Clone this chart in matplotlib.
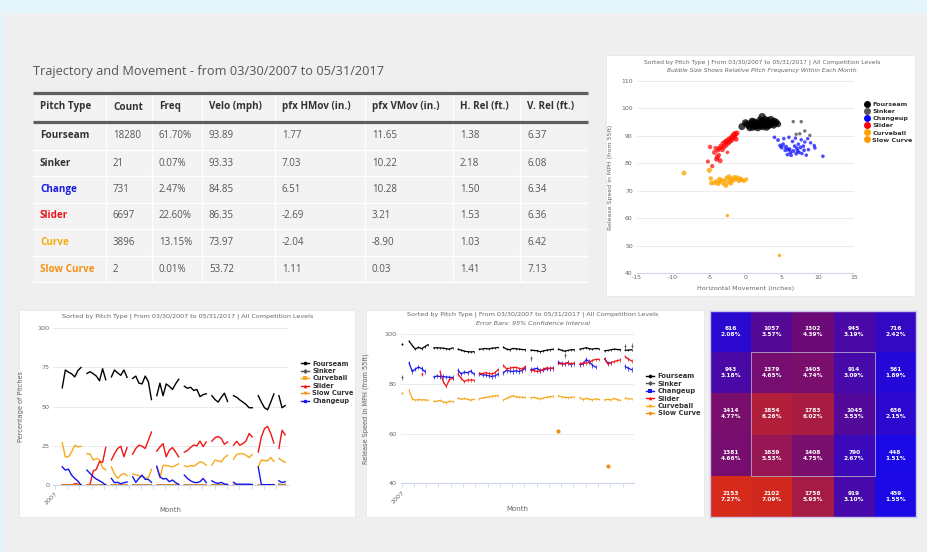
import numpy as np
import matplotlib
matplotlib.use('Agg')
import matplotlib.pyplot as plt
from matplotlib.patches import Rectangle
from matplotlib.lines import Line2D
from matplotlib.colors import LinearSegmentedColormap

plt.rcParams['axes.unicode_minus'] = False
plt.rcParams['font.family'] = ['DejaVu Sans']

# ---------------- table data ----------------
table_title = 'Trajectory and Movement - from 03/30/2007 to 05/31/2017'
table_columns = ['Pitch Type', 'Count', 'Freq', 'Velo (mph)', 'pfx HMov (in.)',
                 'pfx VMov (in.)', 'H. Rel (ft.)', 'V. Rel (ft.)']
pitch_names = ['Fourseam', 'Sinker', 'Change', 'Slider', 'Curve', 'Slow Curve']
pitch_counts = [18280, 21, 731, 6697, 3896, 2]
pitch_freq = [61.70, 0.07, 2.47, 22.60, 13.15, 0.01]
pitch_velo = [93.89, 93.33, 84.85, 86.35, 73.97, 53.72]
pitch_hmov = [1.77, 7.03, 6.51, -2.69, -2.04, 1.11]
pitch_vmov = [11.65, 10.22, 10.28, 3.21, -8.90, 0.03]
pitch_hrel = [1.38, 2.18, 1.50, 1.53, 1.03, 1.41]
pitch_vrel = [6.37, 6.08, 6.34, 6.36, 6.42, 7.13]

# ---------------- scatter (h movement, velo, monthly freq %) ----------------
sc_fourseam = [(-0.5, 93.4, 65), (0.2, 94.3, 70), (0.5, 93.8, 72), (0.8, 94.6, 68), (1.0, 93.2, 73),
               (1.2, 94.0, 70), (1.4, 93.5, 64), (1.5, 94.8, 69), (1.7, 93.0, 71), (1.8, 94.2, 66),
               (2.0, 93.6, 62), (2.1, 94.6, 58), (2.3, 97.0, 75), (2.4, 93.3, 61), (2.5, 94.0, 63),
               (2.6, 95.0, 57), (2.8, 93.8, 56), (3.0, 94.4, 60), (3.1, 95.6, 72), (3.2, 93.6, 54),
               (3.4, 94.8, 55), (3.5, 96.0, 70), (3.6, 94.2, 53), (3.8, 95.2, 52), (3.9, 93.8, 50),
               (4.1, 94.6, 57), (4.3, 95.0, 49), (4.5, 94.3, 48), (0.0, 94.8, 68), (1.1, 95.2, 67),
               (2.2, 95.3, 65), (2.9, 93.1, 59), (1.6, 93.9, 74), (0.6, 93.0, 69), (3.3, 94.0, 58),
               (2.7, 96.0, 66), (1.3, 94.5, 62), (0.9, 95.4, 60), (2.0, 95.8, 64), (4.0, 95.5, 51)]
sc_sinker = [(6.6, 95.2, 0.6), (7.7, 95.2, 0.5), (8.2, 91.8, 0.3), (7.0, 90.6, 0.3),
             (7.5, 90.8, 0.3), (8.9, 90.2, 0.2)]
sc_changeup = [(4.0, 89.5, 3), (4.5, 88.5, 5), (4.8, 86.5, 8), (5.0, 85.8, 10), (5.2, 87.0, 4),
               (5.5, 84.8, 6), (5.6, 86.0, 12), (5.8, 83.2, 4), (6.0, 89.5, 2), (6.1, 85.2, 5),
               (6.3, 83.0, 6), (6.5, 88.0, 3), (6.6, 84.5, 9), (6.8, 86.3, 4), (7.0, 83.5, 3),
               (7.1, 85.5, 6), (7.3, 87.0, 2), (7.4, 84.0, 4), (7.6, 85.8, 7), (7.8, 83.6, 2),
               (8.0, 86.3, 3), (8.1, 84.8, 4), (8.2, 87.8, 1), (8.4, 83.0, 2), (8.7, 85.0, 2),
               (9.0, 87.5, 1), (9.5, 86.5, 2), (9.6, 85.6, 1), (10.7, 82.6, 2), (5.3, 89.0, 2),
               (6.9, 89.2, 1), (7.7, 88.6, 1), (8.6, 89.0, 1), (6.2, 84.0, 4), (7.2, 84.6, 5),
               (5.9, 85.0, 7)]
sc_slider = [(-4.9, 86.0, 15), (-5.2, 80.7, 10), (-4.6, 79.0, 12), (-4.3, 84.0, 20), (-4.0, 81.5, 22),
             (-3.9, 82.3, 25), (-3.8, 84.8, 18), (-3.6, 85.5, 22), (-3.5, 81.0, 24), (-3.4, 86.3, 23),
             (-3.2, 85.0, 24), (-3.1, 87.3, 25), (-3.0, 86.0, 28), (-2.8, 87.8, 27), (-2.7, 86.6, 24),
             (-2.6, 88.2, 30), (-2.4, 87.4, 29), (-2.3, 88.8, 27), (-2.2, 88.0, 33), (-2.0, 89.2, 31),
             (-1.9, 88.5, 28), (-1.8, 89.8, 35), (-1.6, 90.5, 37), (-1.5, 89.5, 27), (-1.4, 90.8, 33),
             (-1.3, 88.8, 25), (-2.5, 84.0, 3), (-1.2, 91.0, 31), (-3.7, 83.0, 16), (-4.1, 85.5, 21)]
sc_curveball = [(-8.5, 76.5, 20), (-5.0, 77.5, 27), (-4.8, 74.5, 15), (-4.7, 72.8, 18), (-4.3, 73.0, 20),
                (-4.0, 73.5, 12), (-3.8, 72.6, 17), (-3.5, 73.2, 19), (-3.3, 74.0, 12), (-3.0, 72.5, 10),
                (-2.9, 73.6, 14), (-2.7, 71.9, 16), (-2.6, 74.6, 20), (-2.4, 73.0, 8), (-2.3, 75.2, 18),
                (-2.1, 74.0, 15), (-1.9, 74.5, 12), (-1.7, 73.8, 13), (-1.5, 75.0, 16), (-1.3, 74.2, 14),
                (-1.1, 74.8, 17), (-0.9, 73.6, 12), (-0.7, 74.4, 15), (-0.5, 74.0, 13), (-0.2, 73.6, 11),
                (0.1, 74.2, 10), (-3.6, 74.3, 14), (-2.0, 72.8, 19)]
sc_slowcurve = [(-2.5, 61.0, 0.1), (4.7, 46.5, 0.1)]

# ---------------- monthly series (one list per season, first = March 2007) ----------------
season_month0 = [0.0, 2.4, 10.3, 18.1, 24.9, 32.6, 41.4, 50.2, 57.1, 65.0, 71.6]

pct_fourseam = [[None], [62, 73.4, 72, 71, 69, 73, 75], [71.2, 72.3, 71, 69.5, 66.5, 74.2, 67.2],
                [69, 73.4, 71.5, 70, 73.4, 68.7], [68, 69.5, 65, 64.5, 69.5, 66, 54.5],
                [57, 65, 57, 64.5, 63, 61, 64.5, 67.5], [63, 61.7, 62.4, 60.3, 61, 56.4, 57.7, 58.2],
                [57, 54.5, 52.9, 56, 58.6, 53.3], [57, 56, 54.3, 52.9, 51.4, 49.3, 49.3],
                [57, 52.9, 49.3, 48, 52.9, 58.1], [57, 49.3, 50.7]]
pct_sinker = [[None], [0, 0, 0, 0, 0, 0, 0], [0, 0, 0, 0, 0, 0, 0], [0, 0, 0, 0, 0, 0],
              [0, 0, 0, 0, 0, 0, 0], [0, 0, 0, 0, 0, 0, 0, 0], [0.2, 0, 0, 0, 0, 0, 0, 0],
              [0, 0, 0.3, 0, 0, 0], [0, 0, 0, 0, 0, 0, 0], [0, 0, 0, 0, 0, 0], [0.6, 0, 0.4]]
pct_curveball = [[None], [27, 18, 18, 21.1, 25.4, 24.3, 24.7], [20, 19.7, 15.9, 17, 16, 11, 9.6],
                 [11.6, 7, 4.2, 6.3, 7.4, 5.9], [7, 6.5, 6, 5.5, 4.5, 4.5, 10],
                 [11, 4.5, 12.5, 12.5, 12, 11.5, 12.5, 13.5], [12.3, 11.6, 12.5, 12, 13.3, 14.8, 14.2, 12.7],
                 [12.7, 15.9, 15.4, 14.8, 17.5, 19], [16.5, 19.5, 20, 20, 19, 17.5, 19.5],
                 [11.5, 16, 15.5, 15.5, 17.5, 15], [17, 15.5, 14.5]]
pct_slider = [[None], [0, 0, 0, 0, 0.8, 0.6, 0], [0, 0.5, 9, 10, 15, 14.5, 24],
              [16, 20, 23.3, 24.7, 18, 23.9], [19.7, 23.3, 25.4, 24.7, 23.3, 28.5, 33.8],
              [21.6, 24.3, 26.4, 18, 22.2, 23.9, 21.1, 18], [21, 22, 24, 25.5, 25, 28, 24.5, 27.5],
              [28, 30.2, 31, 29.6, 26, 27.5], [25.4, 27.9, 25.4, 26.4, 28.1, 32.8, 30.7],
              [21, 30.7, 36, 37.4, 32.8, 26.8], [23.3, 34.9, 32]]
pct_slowcurve = [[None], [0, 0, 0, 0, 0, 0, 0], [0, 0, 0, 0, 0, 0, 0], [0, 0, 0, 0, 0, 0],
                 [0, 0, 0, 0, 0, 0, 0], [0, 0, 0, 0, 0, 0, 0, 0], [0, 0, 0, 0, 0, 0, 0, 0],
                 [0.1, 0, 0, 0, 0, 0], [0, 0, 0, 0, 0, 0, 0], [0, 0.1, 0, 0, 0, 0], [0, 0, 0]]
pct_changeup = [[None], [11.6, 9.5, 10.1, 6.3, 4.2, 2.5, 0], [9.5, 7.4, 5.3, 3.8, 2.7, 1.5, 0],
                [4.2, 1.5, 1.7, 0.8, 1.5, 1.9], [5.3, 1.7, 4.2, 6.3, 3.6, 3.6, 1.7],
                [12, 5.3, 3.8, 4.2, 2.1, 3.2, 1.5, 0.4], [6.3, 4.2, 2.7, 1.7, 1.5, 2.1, 4.2, 1.5],
                [2.7, 1.5, 1, 1.7, 0.6, 0.4], [1.7, 0.5, 0.5, 0.5, 0.5, 0.5, 0.3],
                [11.5, 0.3, 0.2, 0.2, 0.2, 0.2], [2.7, 1.5, 2.1]]

velo_fourseam = [[96.0], [97.2, 95.5, 94.0, 94.8, 94.2, 95.0, 95.8], [94.5, 94.6, 94.5, 94.4, 94.2, 94.0, 94.5],
                 [94.0, 93.6, 93.2, 93.0, 92.9, 93.0], [94.0, 94.1, 94.3, 94.1, 94.4, 94.5, 94.7],
                 [94.8, 94.0, 93.8, 94.3, 94.2, 94.0, 93.9, 93.8], [93.6, 93.5, 93.4, 93.0, 93.3, 93.6, 93.8, 94.0],
                 [94.0, 93.6, 93.2, 93.5, 93.8, 93.8], [94.0, 94.3, 94.6, 94.2, 94.0, 94.3, 94.2],
                 [93.4, 93.5, 93.8, 94.0, 93.9, 93.8], [93.6, 93.6, 93.8]]
velo_sinker = [[82.7], [None] * 7, [None] * 7, [None] * 6, [None] * 7, [None] * 8,
               [90.3, None, None, None, None, None, None, None], [None, None, 91.5, None, None, None],
               [None] * 7, [None] * 6, [95.1, None, 95.3]]
velo_changeup = [[None], [88.5, 85.0, 86.0, 86.8, 86.2, 85.0, None], [82.8, 83.2, 83.0, 83.0, 82.8, 82.7, 82.6],
                 [85.5, 84.0, 84.8, 84.5, 85.2, 84.0], [84.0, 83.6, 83.6, 83.3, 83.0, 83.3, 84.0],
                 [84.5, 85.5, 85.2, 85.0, 85.3, 85.0, 85.5, 86.3], [85.8, 86.0, 86.3, 85.4, 85.6, 86.1, 86.2, 86.3],
                 [88.8, 88.3, 88.0, 88.6, 87.8, 88.3], [87.8, 88.0, 89.8, 89.0, 87.5, 86.8, None],
                 [90.0, 88.5, 88.5, None, None, None], [87.0, 86.3, 85.8]]
velo_slider = [[None], [None, None, None, None, 84.0, None, None], [None, None, 85.0, 81.0, 79.0, 81.8, 82.2],
               [84.0, 82.2, 81.0, 81.6, 81.6, 81.5], [84.3, 84.2, 84.5, 84.3, 84.0, 84.6, 85.8],
               [87.5, 86.0, 86.4, 86.6, 86.7, 86.3, 86.0, 87.0], [85.5, 85.4, 85.0, 85.2, 86.0, 86.5, 86.3, 86.4],
               [88.2, 88.0, 88.3, 88.4, 88.2, 88.3], [88.0, 88.5, 88.3, 88.8, 89.5, 89.9, 89.9],
               [90.2, 88.0, 88.6, 89.0, 89.4, 89.7], [91.0, 90.0, 89.3]]
velo_curveball = [[76.4], [77.5, 74.0, 73.5, 73.7, 73.6, 73.6, 73.5], [73.0, 73.0, 73.4, 72.8, 72.5, 73.0, 72.9],
                  [74.3, 73.8, 74.2, 73.8, 73.5, 73.8], [74.0, 74.4, 74.6, 74.8, 75.0, 75.3, 75.3],
                  [73.5, 74.2, 74.8, 75.2, 74.9, 74.7, 74.6, 74.6], [74.5, 74.6, 74.2, 74.0, 74.3, 74.6, 74.9, 75.0],
                  [75.3, 74.8, 74.6, 74.5, 74.6, 74.8], [74.5, 73.7, 74.2, 73.9, 73.6, 74.0, 73.8],
                  [73.6, 73.8, 73.6, 74.2, 73.7, 73.4], [74.4, 74.0, 74.0]]
velo_slowcurve = [[None], [None] * 7, [None] * 7, [None] * 6, [None] * 7, [None] * 8, [None] * 8,
                  [61.1, None, None, None, None, None], [None] * 7, [None, 46.9, None, None, None, None],
                  [None] * 3]
velo_ci = {'Fourseam': 0.35, 'Sinker': 1.0, 'Changeup': 0.9, 'Slider': 0.7, 'Curveball': 0.45, 'Slow Curve': 0.0}

# ---------------- zone heatmap ----------------
zone_counts = [[616, 1057, 1302, 945, 716], [943, 1379, 1405, 914, 561], [1414, 1854, 1783, 1045, 636],
               [1381, 1639, 1408, 790, 448], [2153, 2102, 1758, 919, 459]]
zone_pct = [[2.08, 3.57, 4.39, 3.19, 2.42], [3.18, 4.65, 4.74, 3.09, 1.89], [4.77, 6.26, 6.02, 3.53, 2.15],
            [4.66, 5.53, 4.75, 2.67, 1.51], [7.27, 7.09, 5.93, 3.10, 1.55]]

chart_title = 'Sorted by Pitch Type | From 03/30/2007 to 05/31/2017 | All Competition Levels'

# ---------------- styles ----------------
COL = {'Fourseam': '#000000', 'Sinker': '#555555', 'Changeup': '#1414f0', 'Slider': '#f01414',
       'Curveball': '#f6a81c', 'Slow Curve': '#f38f14'}
NAME_COL = {'Fourseam': '#333333', 'Sinker': '#333333', 'Change': '#1a1ae0', 'Slider': '#e8141a',
            'Curve': '#f5ad10', 'Slow Curve': '#f59012'}
GRID = '#e8e8e8'
AXC = '#ccd6eb'
TXT = '#666666'

W, H = 928, 552
fig = plt.figure(figsize=(W / 100, H / 100), dpi=100)
fig.patch.set_facecolor('#efefef')


def ax_px(x0, y0, x1, y1, **kw):
    return fig.add_axes([x0 / W, 1 - y1 / H, (x1 - x0) / W, (y1 - y0) / H], **kw)


bg = ax_px(0, 0, W, H)
bg.set_xlim(0, W)
bg.set_ylim(H, 0)
bg.axis('off')
bg.set_zorder(-10)
bg.add_patch(Rectangle((0, 0), W, 13, color='#e3f4fa', lw=0))
bg.add_patch(Rectangle((0, 0), 2.7, H, color='#e3f4fa', lw=0))
for (x0, y0, x1, y1) in [(606, 55, 915, 296), (19, 310, 355, 517), (366, 310, 704, 517)]:
    bg.add_patch(Rectangle((x0, y0), x1 - x0, y1 - y0, fc='white', ec='#e4e4e4', lw=0.5))

# ---------------- table ----------------
TF = ['Open Sans', 'DejaVu Sans']
bg.text(33, 72, table_title, fontsize=9.2, color='#555555', va='center', ha='left', family=TF)
cols_x = [33, 106, 152, 202, 275, 365, 453, 520.5, 588]
rows_y = [92.5, 121.5, 150, 176, 203, 229, 256, 282]
bg.add_patch(Rectangle((cols_x[0], rows_y[0]), cols_x[-1] - cols_x[0], rows_y[-1] - rows_y[0],
                       fc='#f3f3f3', ec='none'))
for x in cols_x[1:-1]:
    bg.plot([x, x], [rows_y[0], rows_y[-1]], color='white', lw=1.0)
for y in rows_y[2:]:
    bg.plot([cols_x[0], cols_x[-1]], [y, y], color='white', lw=1.0)
for y in rows_y[:2]:
    bg.plot([cols_x[0], cols_x[-1]], [y, y], color='#5e5e5e', lw=2.3, solid_capstyle='butt')
head_y = (rows_y[0] + rows_y[1]) / 2
for j, c in enumerate(table_columns):
    bg.text(cols_x[j] + 7, head_y, c, fontsize=7.1, fontweight='bold', color='#333333',
            va='center', ha='left', family=TF)
for i, name in enumerate(pitch_names):
    yc = (rows_y[i + 1] + rows_y[i + 2]) / 2
    vals = [f'{pitch_counts[i]}', f'{pitch_freq[i]:.2f}%', f'{pitch_velo[i]:.2f}',
            f'{pitch_hmov[i]:.2f}', f'{pitch_vmov[i]:.2f}', f'{pitch_hrel[i]:.2f}', f'{pitch_vrel[i]:.2f}']
    bg.text(cols_x[0] + 7, yc, name, fontsize=7.1, fontweight='bold', color=NAME_COL[name],
            va='center', ha='left', family=TF)
    for j, v in enumerate(vals):
        bg.text(cols_x[j + 1] + 7, yc, v, fontsize=7.0, color='#555555', va='center', ha='left', family=TF)


def style_axes(ax):
    ax.set_facecolor('none')
    for s in ['top', 'right', 'left']:
        ax.spines[s].set_visible(False)
    ax.spines['bottom'].set_color(AXC)
    ax.spines['bottom'].set_linewidth(0.8)
    ax.grid(axis='y', color=GRID, lw=0.6)
    ax.set_axisbelow(True)
    ax.tick_params(axis='y', length=0, labelsize=4.6, labelcolor=TXT, pad=3)
    ax.tick_params(axis='x', labelsize=4.6, labelcolor=TXT, color=AXC, length=3, width=0.6, pad=1.5)


def legend(ax, labels, colors, markers, x, y, fs, ms, handlelen, spacing, line=True):
    hs = [Line2D([0], [0], color=c, marker=m, lw=1.0 if line else 0, ls='-' if line else 'none',
                 markersize=ms, markeredgewidth=0) for c, m in zip(colors, markers)]
    lg = ax.legend(hs, labels, loc='upper left', bbox_to_anchor=(x / W, 1 - y / H),
                   bbox_transform=fig.transFigure, frameon=False, borderaxespad=0, borderpad=0,
                   handlelength=handlelen, handletextpad=0.5, labelspacing=spacing,
                   prop={'size': fs, 'weight': 'bold'})
    for t in lg.get_texts():
        t.set_color('#333333')
    return lg


def series_xy(seasons):
    xs, ys = [], []
    for x0, vals in zip(season_month0, seasons):
        for i, v in enumerate(vals):
            xs.append(x0 + i)
            ys.append(np.nan if v is None else v)
        xs.append(np.nan)
        ys.append(np.nan)
    return np.array(xs, float), np.array(ys, float)


def isolated(ys):
    idx = []
    for i in range(len(ys)):
        if np.isfinite(ys[i]):
            left = i == 0 or not np.isfinite(ys[i - 1])
            right = i == len(ys) - 1 or not np.isfinite(ys[i + 1])
            if left and right:
                idx.append(i)
    return idx


month_ticks = np.arange(0.0, 74.5, 3.93)
month_ticklabels = ['2007'] + [''] * (len(month_ticks) - 1)

# ---------------- scatter ----------------
ax1 = ax_px(637, 81, 854, 273.3)
style_axes(ax1)
ax1.tick_params(axis='x', length=0, labelsize=4.4)
ax1.tick_params(axis='y', labelsize=4.4)
sc_series = [('Fourseam', sc_fourseam, '#000000', 0.75), ('Sinker', sc_sinker, '#555555', 0.8),
             ('Changeup', sc_changeup, '#0000ff', 0.7), ('Slider', sc_slider, '#ff0000', 0.7),
             ('Curveball', sc_curveball, '#ffa500', 0.8), ('Slow Curve', sc_slowcurve, '#ff9900', 0.8)]
for name, pts, c, a in sc_series:
    arr = np.array(pts, float)
    ax1.scatter(arr[:, 0], arr[:, 1], s=6 + 0.3 * arr[:, 2], color=c, alpha=a, lw=0, zorder=3)
ax1.set_xlim(-15, 15)
ax1.set_ylim(40, 110)
ax1.set_xticks(range(-15, 16, 5))
ax1.set_yticks(range(40, 111, 10))
ax1.set_ylabel('Release Speed in MPH (from 55ft)', fontsize=4.5, color=TXT)
ax1.yaxis.set_label_coords(-0.112, 0.5)
ax1.set_xlabel('Horizontal Movement (inches)', fontsize=4.6, color=TXT)
ax1.xaxis.set_label_coords(0.5, -0.068)
fig.text(762 / W, 1 - 62.7 / H, chart_title, fontsize=4.3, color=TXT, ha='center', va='center')
fig.text(762 / W, 1 - 70.7 / H, 'Bubble Size Shows Relative Pitch Frequency Within Each Month',
         fontsize=4.3, color=TXT, ha='center', va='center', style='italic')
legend(ax1, [s[0] for s in sc_series], [s[2] for s in sc_series], ['o'] * 6, 864, 101.5, 4.6, 5.0, 0.8,
       0.26, line=False)

# ---------------- percentage lines ----------------
ax2 = ax_px(53.3, 328.3, 288.3, 485)
style_axes(ax2)
pct_series = [('Fourseam', pct_fourseam, 'o'), ('Sinker', pct_sinker, 'D'), ('Curveball', pct_curveball, 's'),
              ('Slider', pct_slider, '^'), ('Slow Curve', pct_slowcurve, 'v'), ('Changeup', pct_changeup, 'o')]
for z, (name, data, m) in enumerate(pct_series):
    xs, ys = series_xy(data)
    ax2.plot(xs, ys, color=COL[name], lw=1.0, zorder=3 + (0 if name == 'Sinker' else 1))
ax2.set_xlim(-0.45, 74.6)
ax2.set_ylim(0, 100)
ax2.set_yticks([0, 25, 50, 75, 100])
ax2.set_xticks(month_ticks)
ax2.set_xticklabels(month_ticklabels, rotation=45, ha='right', rotation_mode='anchor')
ax2.set_ylabel('Percentage of Pitches', fontsize=4.7, color=TXT)
ax2.yaxis.set_label_coords(-0.123, 0.5)
ax2.set_xlabel('Month', fontsize=5.0, color=TXT)
ax2.xaxis.set_label_coords(0.5, -0.14)
fig.text(188 / W, 1 - 316 / H, chart_title, fontsize=4.6, color=TXT, ha='center', va='center')
legend(ax2, [s[0] for s in pct_series], [COL[s[0]] for s in pct_series], [s[2] for s in pct_series],
       301, 360.5, 4.8, 2.6, 1.2, 0.22)

# ---------------- velocity lines ----------------
ax3 = ax_px(401, 334.3, 633.7, 483.3)
style_axes(ax3)
velo_series = [('Fourseam', velo_fourseam, 'o'), ('Sinker', velo_sinker, 'D'), ('Changeup', velo_changeup, 's'),
               ('Slider', velo_slider, '^'), ('Curveball', velo_curveball, 'v'), ('Slow Curve', velo_slowcurve, 'o')]
for name, data, m in velo_series:
    xs, ys = series_xy(data)
    ci = velo_ci[name]
    ax3.plot(xs, ys, color=COL[name], lw=0.9, zorder=3)
    if ci > 0:
        ax3.errorbar(xs, ys, yerr=ci, fmt='none', ecolor=COL[name], elinewidth=0.5, capsize=0, zorder=3)
    iso = isolated(ys)
    if iso:
        ax3.plot(xs[iso], ys[iso], ls='none', marker='o', color=COL[name],
                 markersize=3.0 if name == 'Slow Curve' else 1.4, markeredgewidth=0, zorder=4)
ax3.set_xlim(-0.2, 74.3)
ax3.set_ylim(40, 100)
ax3.set_yticks([40, 60, 80, 100])
ax3.set_xticks(month_ticks)
ax3.set_xticklabels(month_ticklabels, rotation=45, ha='right', rotation_mode='anchor')
ax3.set_ylabel('Release Speed in MPH (from 55ft)', fontsize=4.7, color=TXT)
ax3.yaxis.set_label_coords(-0.136, 0.5)
ax3.set_xlabel('Month', fontsize=5.0, color=TXT)
ax3.xaxis.set_label_coords(0.5, -0.15)
fig.text(533 / W, 1 - 314.5 / H, chart_title, fontsize=4.6, color=TXT, ha='center', va='center')
fig.text(533 / W, 1 - 323.5 / H, 'Error Bars: 95% Confidence Interval', fontsize=4.6, color=TXT,
         ha='center', va='center', style='italic')
legend(ax3, [s[0] for s in velo_series], [COL[s[0]] for s in velo_series], [s[2] for s in velo_series],
       646, 373.5, 4.9, 2.6, 1.2, 0.2)

# ---------------- zone heatmap ----------------
ax4 = ax_px(710, 311, 916, 517)
cmap = LinearSegmentedColormap.from_list('zone', ['#1a08e6', '#6c0a78', '#d62a1a'])
zp = np.array(zone_pct)
ax4.pcolormesh(np.arange(6), np.arange(6), zp, cmap=cmap, vmin=zp.min(), vmax=zp.max())
ax4.set_xlim(0, 5)
ax4.set_ylim(5, 0)
ax4.set_xticks([])
ax4.set_yticks([])
for s in ax4.spines.values():
    s.set_color('#c9c6ea')
    s.set_linewidth(1.0)
ax4.add_patch(Rectangle((1, 1), 3, 3, fill=False, ec='#b6a6c6', lw=0.6))
for r in range(5):
    for c in range(5):
        ax4.text(c + 0.5, r + 0.5, f'{zone_counts[r][c]}\n{zone_pct[r][c]:.2f}%', color='white',
                 fontsize=4.2, fontweight='bold', ha='center', va='center', linespacing=1.25)

fig.savefig('out.png', dpi=100, facecolor=fig.get_facecolor())
